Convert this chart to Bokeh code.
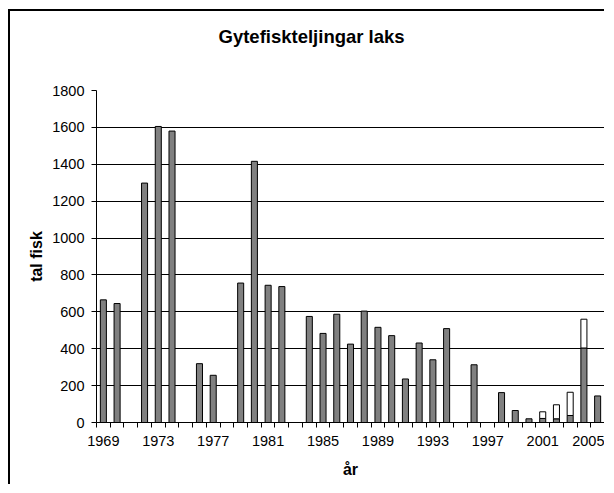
from bokeh.plotting import figure
from bokeh.models import Range1d, FixedTicker, ColumnDataSource, Title
from bokeh.embed import file_html
from bokeh.resources import INLINE

# ---- data -------------------------------------------------------------
years = [1969, 1970, 1971, 1972, 1973, 1974, 1975, 1976, 1977, 1978,
         1979, 1980, 1981, 1982, 1983, 1984, 1985, 1986, 1987, 1988,
         1989, 1990, 1991, 1992, 1993, 1994, 1995, 1996, 1997, 1998,
         1999, 2000, 2001, 2002, 2003, 2004, 2005]
counted = [665, 645, 0, 1298, 1605, 1580, 0, 319, 256, 0,
           756, 1416, 744, 737, 0, 575, 483, 587, 425, 604,
           516, 471, 236, 431, 340, 509, 0, 313, 0, 162,
           65, 20, 22, 20, 38, 404, 144]
extra = [0, 0, 0, 0, 0, 0, 0, 0, 0, 0,
         0, 0, 0, 0, 0, 0, 0, 0, 0, 0,
         0, 0, 0, 0, 0, 0, 0, 0, 0, 0,
         0, 0, 36, 76, 126, 156, 0]
y_ticks = [0, 200, 400, 600, 800, 1000, 1200, 1400, 1600, 1800]
x_label_years = [1969, 1973, 1977, 1981, 1985, 1989, 1993, 1997, 2001, 2005]

title_text = "Gytefiskteljingar laks"
x_title = "år"
y_title = "tal fisk"

FONT = "Liberation Sans"

# ---- figure -----------------------------------------------------------
p = figure(width=596, height=475,
           x_range=Range1d(years[0] - 0.5, years[-1] + 0.5),
           y_range=Range1d(0, 1800),
           output_backend="svg", toolbar_location=None,
           title_location=None,
           min_border_left=86, min_border_right=2,
           min_border_top=79, min_border_bottom=64,
           background_fill_color="white", border_fill_color="white",
           outline_line_color=None,
           styles={"border-left": "2px solid #000", "border-top": "2px solid #000",
                   "margin-left": "8px", "margin-top": "9px"})

gray_src = ColumnDataSource(dict(
    x=[y for y, c in zip(years, counted) if c > 0],
    top=[c for c in counted if c > 0]))
white_src = ColumnDataSource(dict(
    x=[y for y, e in zip(years, extra) if e > 0],
    bottom=[c for c, e in zip(counted, extra) if e > 0],
    top=[c + e for c, e in zip(counted, extra) if e > 0]))

p.vbar(x="x", top="top", bottom=0, width=0.44, source=gray_src,
       fill_color="#808080", line_color="#000000", line_width=1)
p.vbar(x="x", top="top", bottom="bottom", width=0.44, source=white_src,
       fill_color="#ffffff", line_color="#000000", line_width=1)

# spacer between plot area and title, then the title itself
spacer = Title(text=" ", text_font_size="2px", standoff=35)
p.add_layout(spacer, "above")
main_title = Title(text=title_text, align="left", offset=122, standoff=10,
                   text_font=FONT, text_font_size="18.5px",
                   text_font_style="bold", text_color="#000000")
p.add_layout(main_title, "above")

# x axis
boundaries = [y - 0.5 for y in years] + [years[-1] + 0.5]
xa = p.xaxis[0]
xa.ticker = FixedTicker(ticks=x_label_years, minor_ticks=boundaries)
xa.major_tick_out = 0
xa.major_tick_in = 0
xa.minor_tick_out = 5
xa.minor_tick_in = 0
xa.minor_tick_line_color = "#000000"
xa.axis_line_color = "#000000"
xa.major_label_standoff = 8
xa.major_label_text_font = FONT
xa.major_label_text_font_size = "14.5px"
xa.major_label_text_color = "#000000"
xa.axis_label = x_title
xa.axis_label_text_font = FONT
xa.axis_label_text_font_size = "16px"
xa.axis_label_text_font_style = "bold"
xa.axis_label_text_color = "#000000"
xa.axis_label_standoff = 12

# y axis
ya = p.yaxis[0]
ya.ticker = FixedTicker(ticks=y_ticks, minor_ticks=[])
ya.major_tick_out = 5
ya.major_tick_in = 0
ya.major_tick_line_color = "#000000"
ya.axis_line_color = "#000000"
ya.major_label_standoff = 7
ya.major_label_text_font = FONT
ya.major_label_text_font_size = "14.5px"
ya.major_label_text_color = "#000000"
ya.axis_label = y_title
ya.axis_label_text_font = FONT
ya.axis_label_text_font_size = "16px"
ya.axis_label_text_font_style = "bold"
ya.axis_label_text_color = "#000000"
ya.axis_label_standoff = 4

p.xgrid.visible = False
p.ygrid.ticker = FixedTicker(ticks=y_ticks, minor_ticks=[])
p.ygrid.grid_line_color = "#000000"
p.ygrid.grid_line_width = 1

open("out.html", "w").write(file_html(p, INLINE))
